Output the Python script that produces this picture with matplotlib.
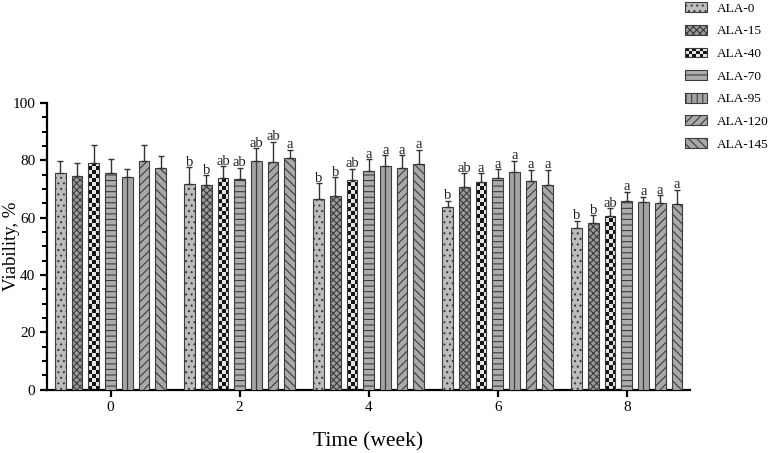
import numpy as np
import matplotlib
matplotlib.use("Agg")
import matplotlib.pyplot as plt
from matplotlib.patches import Rectangle
from matplotlib.legend_handler import HandlerBase
from matplotlib.colors import ListedColormap
from matplotlib.ticker import MultipleLocator

plt.rcParams['font.family'] = ['Liberation Serif', 'DejaVu Serif']
plt.rcParams['hatch.linewidth'] = 0.8

# ---------------- data ----------------
weeks = [0, 2, 4, 6, 8]
groups = ['ALA-0', 'ALA-15', 'ALA-40', 'ALA-70', 'ALA-95', 'ALA-120', 'ALA-145']

ala0 = [75.4, 71.7, 66.3, 63.5, 56.2]
ala15 = [74.4, 71.2, 67.5, 70.5, 58.0]
ala40 = [79.1, 73.9, 73.2, 72.3, 60.7]
ala70 = [75.6, 73.3, 76.4, 73.7, 65.9]
ala95 = [74.0, 79.7, 77.9, 76.0, 65.3]
ala120 = [79.8, 79.3, 77.2, 72.6, 64.9]
ala145 = [77.2, 80.7, 78.7, 71.4, 64.7]

err0 = [4.4, 5.9, 5.6, 2.3, 2.7]
err15 = [4.7, 3.6, 6.5, 4.9, 2.8]
err40 = [6.2, 3.9, 3.8, 3.1, 2.5]
err70 = [4.9, 4.1, 4.0, 3.2, 3.1]
err95 = [3.0, 4.5, 3.9, 3.8, 2.0]
err120 = [5.4, 7.1, 4.6, 4.0, 2.9]
err145 = [4.2, 2.9, 4.9, 5.2, 5.0]

let0 = ['', 'b', 'b', 'b', 'b']
let15 = ['', 'b', 'b', 'ab', 'b']
let40 = ['', 'ab', 'ab', 'a', 'ab']
let70 = ['', 'ab', 'a', 'a', 'a']
let95 = ['', 'ab', 'a', 'a', 'a']
let120 = ['', 'ab', 'a', 'a', 'a']
let145 = ['', 'a', 'a', 'a', 'a']

y_ticks = [0, 20, 40, 60, 80, 100]
x_ticks = [0, 2, 4, 6, 8]

means = [ala0, ala15, ala40, ala70, ala95, ala120, ala145]
errs = [err0, err15, err40, err70, err95, err120, err145]
letters = [let0, let15, let40, let70, let95, let120, let145]

# ---------------- styles ----------------
faces = ['#bcbcbc', '#9a9a9a', 'none', '#acacac', '#a4a4a4', '#a8a8a8', '#a8a8a8']
hatches = ['...', 'xxxxx', None, '---', None, '////', '\\\\\\\\']
edge = '#3c3c3c'
spacing = 0.259
width = 0.166
chk_dark, chk_light = '#141414', '#e4e4e4'

fig = plt.figure(figsize=(7.77, 4.53), dpi=100)
ax = fig.add_axes([0.0605, 0.140, 0.8275, 0.633])

x = np.array(weeks, dtype=float)
handles = []
for i, g in enumerate(groups):
    xs = x + (i - 3) * spacing
    bars = ax.bar(xs, means[i], width=width, facecolor=faces[i], edgecolor=edge,
                  linewidth=0.8, hatch=hatches[i], zorder=3, label=g)
    handles.append(bars)
    if g == 'ALA-40':
        cw, ch = 0.062, 1.42
        for b in bars:
            x0 = b.get_x()
            h = b.get_height()
            nx = int(np.ceil(width / cw))
            ny = int(np.ceil(h / ch))
            arr = (np.add.outer(np.arange(ny), np.arange(nx)) % 2)
            im = ax.imshow(arr, extent=(x0, x0 + nx * cw, 0, ny * ch), origin='lower',
                           cmap=ListedColormap([chk_dark, chk_light]), interpolation='nearest',
                           aspect='auto', zorder=2)
            im.set_clip_path(b)
    if g == 'ALA-95':
        ax.vlines(xs, 0, means[i], colors=edge, linewidth=0.9, zorder=3.5)
    ax.errorbar(xs, means[i], yerr=[np.zeros(len(weeks)), errs[i]], fmt='none',
                ecolor='#333333', elinewidth=1.0, capsize=2.5, capthick=1.0, zorder=4)
    for xx, m, e, t in zip(xs, means[i], errs[i], letters[i]):
        if t:
            ax.text(xx, m + e + 0.5, t, ha='center', va='baseline', fontsize=10.5,
                    color='#222222', zorder=5)

ax.set_xlim(-0.985, 8.98)
ax.set_ylim(0, 100)
ax.set_xticks(x_ticks)
ax.set_yticks(y_ticks)
ax.yaxis.set_minor_locator(MultipleLocator(5))
for s in ['top', 'right']:
    ax.spines[s].set_visible(False)
for s in ['left', 'bottom']:
    ax.spines[s].set_linewidth(1.6)
ax.tick_params(axis='both', which='major', width=1.6, length=5, labelsize=11, direction='out')
ax.tick_params(axis='y', which='minor', width=1.4, length=3.5, direction='out')
ax.set_xlabel('Time (week)', fontsize=15.5, labelpad=13)
ax.set_ylabel('Viability, %', fontsize=13.5)
ax.yaxis.set_label_coords(-0.042, 0.5)


class CheckerHandler(HandlerBase):
    def create_artists(self, legend, orig_handle, xdescent, ydescent, width, height,
                       fontsize, trans):
        arts = []
        nx, ny = 6, 3
        cw, ch = width / nx, height / ny
        for a in range(nx):
            for b in range(ny):
                c = chk_dark if (a + b) % 2 == 0 else chk_light
                arts.append(Rectangle((-xdescent + a * cw, -ydescent + b * ch), cw, ch,
                                      facecolor=c, edgecolor='none', transform=trans))
        arts.append(Rectangle((-xdescent, -ydescent), width, height, facecolor='none',
                              edgecolor=edge, linewidth=0.8, transform=trans))
        return arts


leg_handles = list(handles)
leg_handles[4] = Rectangle((0, 0), 1, 1, facecolor=faces[4], edgecolor=edge,
                           linewidth=0.8, hatch='|||')
leg = fig.legend(leg_handles, groups, loc='upper left', bbox_to_anchor=(0.8816, 0.995),
                 frameon=False, fontsize=9.5, handlelength=1.67, handleheight=0.76,
                 handletextpad=0.76, labelspacing=0.77, borderpad=0, borderaxespad=0,
                 handler_map={handles[2]: CheckerHandler()})

fig.savefig('out.png', dpi=100)
